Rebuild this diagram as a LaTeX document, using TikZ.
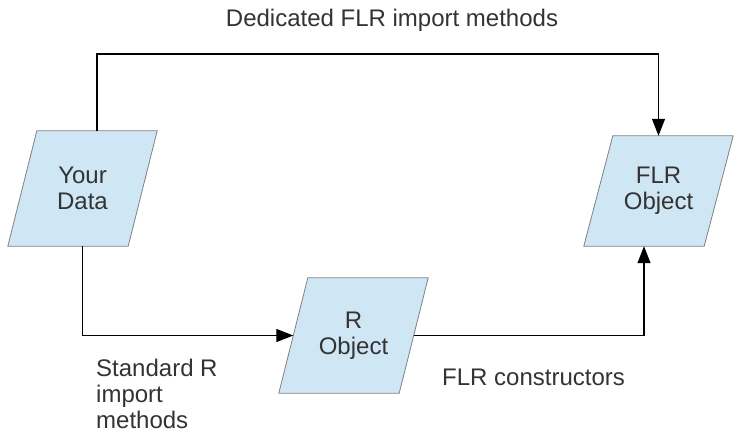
\documentclass[tikz,border=0pt]{standalone}
\usepackage{fontspec}
\setmainfont{Liberation Sans}
\usetikzlibrary{arrows.meta,calc,backgrounds}

\begin{document}
\begin{tikzpicture}[x=1pt,y=-1pt]
	\tikzset{databox/.style={minimum width=120pt,minimum height=115pt,inner sep=0pt,
		text=textgray,align=center,font=\fontsize{24}{26}\selectfont}}
	\tikzset{databorder/.style={draw=black!50,fill=lightblue,line width=0.8pt}}
	\tikzset{flowlabel/.style={text=textgray,align=left,inner sep=0pt,font=\fontsize{24}{26}\selectfont}}
	\tikzset{flow/.style={line width=1.2pt,-{Triangle[length=17pt,width=13pt]}}}
	\definecolor{lightblue}{HTML}{CFE7F5}
	\definecolor{textgray}{HTML}{333333}
	\def\slant{14.5}% half of the horizontal lean
	\useasboundingbox (0,0) rectangle (743,441);
	\node[databox] (data) at (82.5,188.5) {Your\\Data};
	\node[databox,minimum height=110pt] (flr) at (658.5,191) {FLR\\Object};
	\node[databox] (robj) at (353.5,335.5) {R\\Object};
	\begin{scope}[on background layer]
	\foreach \n in {data,flr,robj}
	\draw[databorder] ($(\n.south west)+(-\slant,0)$) -- ($(\n.south east)+(-\slant,0)$)
		-- ($(\n.north east)+(\slant,0)$) -- ($(\n.north west)+(\slant,0)$) -- cycle;
	\end{scope}
	\coordinate (datatop) at ($(data.north)+(\slant,0)$);
	\coordinate (flrbottom) at ($(flr.south)+(-\slant,0)$);
	\coordinate (up) at (0,54);% height of the top elbow
	\draw[flow] (datatop) -- (datatop |- up) -| (flr.north);
	\draw[flow] (data.south) |- (robj.west);
	\draw[flow] (robj.east) -| (flrbottom);
	\node[flowlabel] (ldedicated) at (392,20) {Dedicated FLR import methods};
	\node[flowlabel,anchor=west] (lstandard) at (96,394) {Standard R\\import\\methods};
	\node[flowlabel,anchor=west] (lconstruct) at (442,377) {FLR constructors};
\end{tikzpicture}
\end{document}
